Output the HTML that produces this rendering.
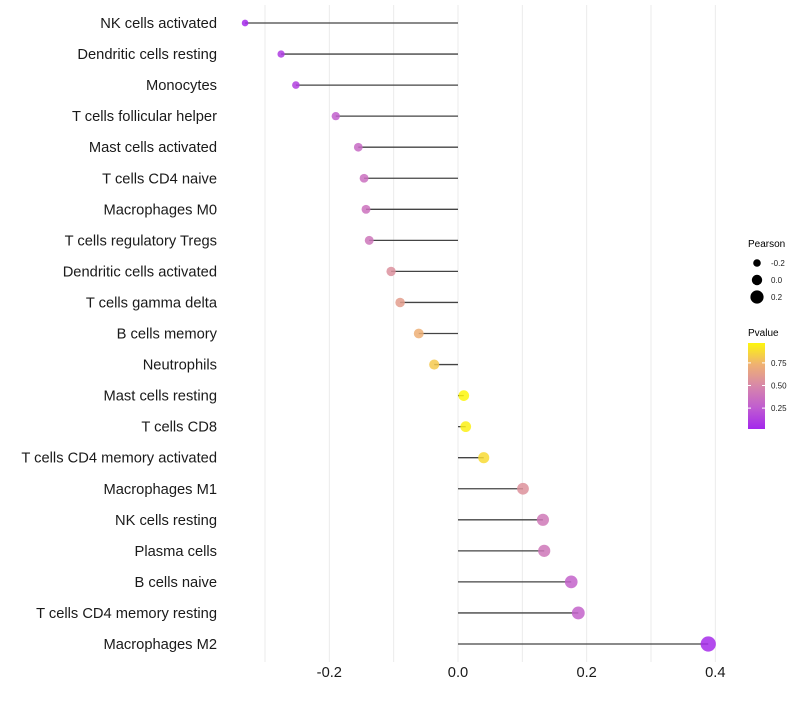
<!DOCTYPE html>
<html><head><meta charset="utf-8"><style>
body{margin:0;background:#fff;font-family:"Liberation Sans",sans-serif}
</style></head><body>
<svg id="c" width="800" height="700" xmlns="http://www.w3.org/2000/svg"></svg>
<script>
const categories=["NK cells activated","Dendritic cells resting","Monocytes","T cells follicular helper","Mast cells activated","T cells CD4 naive","Macrophages M0","T cells regulatory  Tregs ","Dendritic cells activated","T cells gamma delta","B cells memory","Neutrophils","Mast cells resting","T cells CD8","T cells CD4 memory activated","Macrophages M1","NK cells resting","Plasma cells","B cells naive","T cells CD4 memory resting","Macrophages M2"];
const pearson=[-0.331,-0.275,-0.252,-0.190,-0.155,-0.146,-0.143,-0.138,-0.104,-0.090,-0.061,-0.037,0.009,0.012,0.040,0.101,0.132,0.134,0.176,0.187,0.389];
const pvalue=[0.04,0.12,0.14,0.28,0.34,0.37,0.38,0.40,0.55,0.62,0.72,0.82,0.97,0.95,0.88,0.56,0.42,0.41,0.30,0.30,0.05];
const xTicks=[-0.2,0.0,0.2,0.4];
const xTickLabels=["-0.2","0.0","0.2","0.4"];
const gridVals=[-0.3,-0.2,-0.1,0,0.1,0.2,0.3,0.4];
const sizeLegend=[-0.2,0.0,0.2];
const colorTicks=[0.25,0.5,0.75];

const svg=document.getElementById('c');const NS="http://www.w3.org/2000/svg";
function mk(t,a,p){const e=document.createElementNS(NS,t);for(const k in a)e.setAttribute(k,a[k]);(p||svg).appendChild(e);return e;}
const X=v=>458+v*643.3;
const Y=i=>23+i*31.05;
const R=v=>Math.max(2,5.3+6*v);
function col(p){
  const stops=[[0,[160,32,240]],[0.25,[190,90,210]],[0.5,[215,135,170]],[0.75,[240,180,110]],[1,[255,255,0]]];
  for(let i=1;i<stops.length;i++){if(p<=stops[i][0]){const [a,c1]=stops[i-1],[b,c2]=stops[i];const t=(p-a)/(b-a);return 'rgb('+c1.map((c,j)=>Math.round(c+(c2[j]-c)*t)).join(',')+')';}}
  return 'rgb(255,255,0)';
}
gridVals.forEach(v=>{const g=mk('line',{x1:X(v),x2:X(v),y1:5,y2:662,stroke:'#ebebeb','stroke-width':1});

});
categories.forEach((c,i)=>{
  const t=mk('text',{x:217,y:Y(i)+5,'text-anchor':'end','font-size':14.7,fill:'#1a1a1a','xml:space':'preserve'});t.textContent=c;
  
  
  const l=mk('line',{x1:X(0),x2:X(pearson[i]),y1:Y(i),y2:Y(i),stroke:'#444','stroke-width':1.3});
  
  
  const d=mk('circle',{cx:X(pearson[i]),cy:Y(i),r:R(pearson[i]),fill:col(pvalue[i]),'fill-opacity':0.85});
  
  
});
xTicks.forEach((v,i)=>{const t=mk('text',{x:X(v),y:677,'text-anchor':'middle','font-size':14.7,fill:'#1a1a1a'});t.textContent=xTickLabels[i];

});
let t=mk('text',{x:748,y:247,'font-size':10,fill:'#000'});t.textContent='Pearson';


sizeLegend.forEach((v,i)=>{const y=263+i*17;
const c=mk('circle',{cx:757,cy:y,r:3.8+i*1.4,fill:'#000'});


const tt=mk('text',{x:771,y:y+3,'font-size':8,fill:'#1a1a1a'});tt.textContent=(v<0?'-':'')+Math.abs(v).toFixed(1);

});
t=mk('text',{x:748,y:336,'font-size':10,fill:'#000'});t.textContent='Pvalue';


const defs=mk('defs',{});const lg=mk('linearGradient',{id:'g',x1:0,y1:1,x2:0,y2:0},defs);
[0,0.25,0.5,0.75,1].forEach(o=>mk('stop',{offset:o,'stop-color':col(0.03+o*0.94)},lg));
const bar=mk('rect',{x:748,y:343,width:17,height:86,fill:'url(#g)'});


colorTicks.forEach(v=>{const y=428-(v-0.03)/0.94*85;
mk('line',{x1:748,x2:751,y1:y,y2:y,stroke:'#fff'});mk('line',{x1:762,x2:765,y1:y,y2:y,stroke:'#fff'});
const tt=mk('text',{x:771,y:y+3,'font-size':8,fill:'#1a1a1a'});tt.textContent=v.toFixed(2);

});
</script>
</body></html>
